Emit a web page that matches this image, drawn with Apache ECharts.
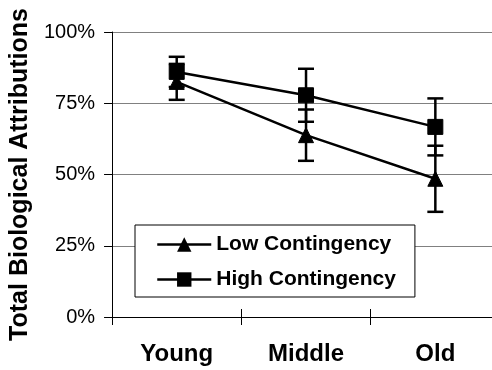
<!DOCTYPE html>
<html>
<head>
<meta charset="utf-8">
<script src="https://cdn.jsdelivr.net/npm/echarts@6/dist/echarts.min.js"></script>
<style>
html,body{margin:0;padding:0;background:#fff;overflow:hidden;}
#chart{width:500px;height:370px;}
</style>
</head>
<body>
<div id="chart"></div>
<script>
var categories = ['Young', 'Middle', 'Old'];
var lowValues = [82.5, 63.8, 48.5];
var lowErrors = [6.3, 9.0, 11.6];
var highValues = [86.0, 77.8, 66.7];
var highErrors = [5.3, 9.3, 10.0];
var yTicks = [0, 25, 50, 75, 100];
var seriesNames = ['Low Contingency', 'High Contingency'];

var FONT = "'Liberation Sans', Arial, sans-serif";

function errData(vals, errs) {
  return vals.map(function (v, i) { return [i, v, errs[i]]; });
}

function renderErr(params, api) {
  var x = api.value(0);
  var v = api.value(1);
  var e = api.value(2);
  var top = api.coord([x, v + e]);
  var bot = api.coord([x, v - e]);
  var cap = 8;
  var st = { stroke: '#000', lineWidth: 2.5 };
  return {
    type: 'group',
    children: [
      { type: 'line', shape: { x1: top[0], y1: top[1], x2: bot[0], y2: bot[1] }, style: st },
      { type: 'line', shape: { x1: top[0] - cap, y1: top[1], x2: top[0] + cap, y2: top[1] }, style: st },
      { type: 'line', shape: { x1: bot[0] - cap, y1: bot[1], x2: bot[0] + cap, y2: bot[1] }, style: st }
    ]
  };
}

var chart = echarts.init(document.getElementById('chart'), null, { renderer: 'canvas' });
chart.setOption({
  animation: false,
  backgroundColor: '#fff',
  grid: { left: 110, top: 32, right: 0, bottom: 53, containLabel: false },
  legend: {
    orient: 'vertical',
    left: 135,
    top: 225,
    data: seriesNames,
    backgroundColor: '#fff',
    borderColor: '#000',
    borderWidth: 1,
    borderRadius: 0,
    padding: [9, 19, 7, 21],
    itemGap: 14,
    itemWidth: 54,
    itemHeight: 18,
    itemStyle: { color: '#000' },
    lineStyle: { color: '#000', width: 2.5 },
    textStyle: { fontFamily: FONT, fontWeight: 'bold', fontSize: 21, color: '#000' }
  },
  xAxis: [{
    type: 'category',
    data: categories,
    boundaryGap: true,
    axisLine: { lineStyle: { color: '#000', width: 1 } },
    axisTick: { show: true, length: 8, lineStyle: { color: '#000' } },
    axisLabel: { fontFamily: FONT, fontWeight: 'bold', fontSize: 24, color: '#000', margin: 25 },
    splitLine: { show: false }
  }, {
    type: 'category',
    data: categories,
    position: 'bottom',
    boundaryGap: true,
    axisLine: { show: false },
    axisTick: { show: true, inside: true, length: 8, lineStyle: { color: '#000' } },
    axisLabel: { show: false },
    splitLine: { show: false }
  }],
  yAxis: {
    type: 'value',
    min: yTicks[0],
    max: yTicks[yTicks.length - 1],
    interval: 25,
    name: 'Total Biological Attributions',
    nameLocation: 'middle',
    nameGap: 68,
    nameTextStyle: { fontFamily: FONT, fontWeight: 'bold', fontSize: 25, color: '#000' },
    axisLine: { show: true, lineStyle: { color: '#000', width: 1 } },
    axisTick: { show: true, length: 8, lineStyle: { color: '#000' } },
    axisLabel: { fontFamily: FONT, fontSize: 20, color: '#000', margin: 17, formatter: '{value}%' },
    splitLine: { show: true, lineStyle: { color: '#808080', width: 1 } }
  },
  series: [{
    name: seriesNames[0] + ' err',
    type: 'custom',
    renderItem: renderErr,
    data: errData(lowValues, lowErrors),
    encode: { x: 0, y: 1 },
    z: 1,
    silent: true
  }, {
    name: seriesNames[1] + ' err',
    type: 'custom',
    renderItem: renderErr,
    data: errData(highValues, highErrors),
    encode: { x: 0, y: 1 },
    z: 1,
    silent: true
  }, {
    name: seriesNames[0],
    type: 'line',
    data: lowValues,
    symbol: 'triangle',
    symbolSize: 15,
    showAllSymbol: true,
    lineStyle: { color: '#000', width: 2.5 },
    itemStyle: { color: '#000', borderColor: '#000' },
    z: 3
  }, {
    name: seriesNames[1],
    type: 'line',
    data: highValues,
    symbol: 'rect',
    symbolSize: 15,
    showAllSymbol: true,
    lineStyle: { color: '#000', width: 2.5 },
    itemStyle: { color: '#000', borderColor: '#000' },
    z: 3
  }]
});
</script>
</body>
</html>
